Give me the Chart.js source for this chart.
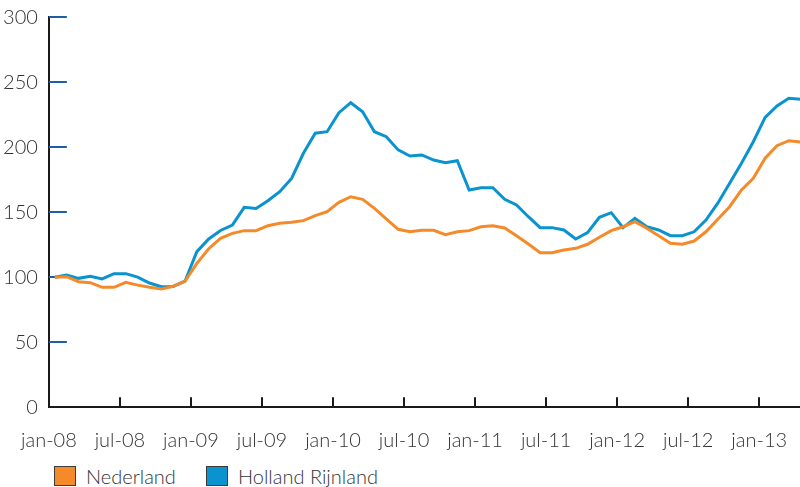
<!DOCTYPE html>
<html>
<head>
<meta charset="utf-8">
<script src="https://cdn.jsdelivr.net/npm/chart.js@4.4.1/dist/chart.umd.min.js"></script>
<style>
  html, body { margin: 0; padding: 0; background: #fff; overflow: hidden; }
  #wrap { position: absolute; left: 0; top: 0; width: 808px; height: 458px; }
  .legend-item { position: absolute; top: 466px; height: 20px; line-height: 20px; display: flex; align-items: center; font-family: Lato, 'Open Sans', sans-serif; font-weight: 300; font-size: 20px; color: #333; }
  .legend-box { width: 20px; height: 18px; border: 1px solid #3a3a3a; margin-right: 10px; }
</style>
</head>
<body>
<div id="wrap"><canvas id="chart"></canvas></div>
<div class="legend-item" style="left:54px"><span class="legend-box" style="background:#f58a2a"></span>Nederland</div>
<div class="legend-item" style="left:206px"><span class="legend-box" style="background:#0a93cf"></span>Holland Rijnland</div>
<script>
const months = [
  'jan-08', 'feb-08', 'mrt-08', 'apr-08', 'mei-08', 'jun-08', 'jul-08', 'aug-08', 'sep-08', 'okt-08', 'nov-08', 'dec-08',
  'jan-09', 'feb-09', 'mrt-09', 'apr-09', 'mei-09', 'jun-09', 'jul-09', 'aug-09', 'sep-09', 'okt-09', 'nov-09', 'dec-09',
  'jan-10', 'feb-10', 'mrt-10', 'apr-10', 'mei-10', 'jun-10', 'jul-10', 'aug-10', 'sep-10', 'okt-10', 'nov-10', 'dec-10',
  'jan-11', 'feb-11', 'mrt-11', 'apr-11', 'mei-11', 'jun-11', 'jul-11', 'aug-11', 'sep-11', 'okt-11', 'nov-11', 'dec-11',
  'jan-12', 'feb-12', 'mrt-12', 'apr-12', 'mei-12', 'jun-12', 'jul-12', 'aug-12', 'sep-12', 'okt-12', 'nov-12', 'dec-12',
  'jan-13', 'feb-13', 'mrt-13', 'apr-13'
];

const nederland = [
  100, 100.5, 96.6, 95.9, 92.3, 92.3, 96.1, 94, 92.3, 91, 93, 96.9,
  110.7, 122, 130, 133.8, 135.9, 135.9, 139.7, 141.5, 142.3, 143.6, 147.4, 150.5,
  157.7, 162, 160, 153, 145, 136.9, 135, 136.2, 136.2, 132.8, 135, 135.9,
  138.9, 139.7, 137.9, 132, 125.6, 118.9, 118.9, 121, 122.3, 125.4, 130.8, 135.9,
  138.9, 142.8, 137.7, 132, 126.1, 125.4, 127.9, 135, 144.6, 154.3, 167.2, 176.1,
  191.6, 201.2, 205.1, 204
];

const hollandRijnland = [
  100, 101.8, 99.2, 100.8, 98.7, 102.8, 102.8, 100.2, 95.6, 92.8, 93, 97,
  119.7, 129.5, 136, 140.2, 153.8, 153, 158.9, 165.9, 176, 195.4, 210.8, 212,
  226.6, 234.3, 227.4, 212, 208.2, 198, 193.3, 194.1, 190.2, 188.2, 189.7, 167.2,
  168.9, 168.9, 160, 155.6, 146.6, 138.2, 138.2, 136.4, 129.5, 134.4, 146.2, 149.7,
  138.2, 145.4, 138.9, 136.4, 132, 132, 135, 144, 157, 172.3, 187.7, 204.3,
  223, 231.8, 237.7, 237
];

// x ticks sit on the boundary before each labelled month
const tickMonths = ['jan-08', 'jul-08', 'jan-09', 'jul-09', 'jan-10', 'jul-10', 'jan-11', 'jul-11', 'jan-12', 'jul-12', 'jan-13'];
const yTicks = [0, 50, 100, 150, 200, 250, 300];

const fontFamily = "Lato, 'Open Sans', sans-serif";
const textColor = '#333';

const toPoints = (values) => values.map((v, i) => ({ x: i, y: v }));

const innerTicks = {
  id: 'innerTicks',
  beforeDatasetsDraw(chart) {
    const { ctx, scales: { x, y } } = chart;
    ctx.save();
    ctx.lineWidth = 2;
    ctx.strokeStyle = '#1d5ea8';
    y.ticks.forEach(t => {
      if (t.value === 0) return;
      const py = Math.round(y.getPixelForValue(t.value));
      ctx.beginPath();
      ctx.moveTo(x.left, py);
      ctx.lineTo(x.left + 18, py);
      ctx.stroke();
    });
    ctx.strokeStyle = '#1a1a1a';
    x.ticks.forEach(t => {
      const px = Math.round(x.getPixelForValue(t.value));
      ctx.beginPath();
      ctx.moveTo(px, y.bottom);
      ctx.lineTo(px, y.bottom - 10);
      ctx.stroke();
    });
    ctx.restore();
  }
};

new Chart(document.getElementById('chart'), {
  type: 'line',
  data: {
    datasets: [
      {
        label: 'Nederland',
        data: toPoints(nederland),
        borderColor: '#f58a2a',
        backgroundColor: '#f58a2a',
        borderWidth: 3,
        pointRadius: 0,
        tension: 0
      },
      {
        label: 'Holland Rijnland',
        data: toPoints(hollandRijnland),
        borderColor: '#0a93cf',
        backgroundColor: '#0a93cf',
        borderWidth: 3,
        pointRadius: 0,
        tension: 0
      }
    ]
  },
  options: {
    responsive: true,
    maintainAspectRatio: false,
    animation: false,
    layout: { padding: { top: 17.3, right: 0, bottom: 0, left: 0 } },
    plugins: {
      legend: { display: false },
      tooltip: { enabled: false }
    },
    scales: {
      x: {
        type: 'linear',
        min: -0.5,
        max: months.length - 0.5,
        afterBuildTicks(scale) {
          scale.ticks = tickMonths.map(m => ({ value: months.indexOf(m) - 0.5 }));
        },
        afterFit(scale) {
          scale.height = 50.7;
        },
        grid: { display: false, drawTicks: false },
        border: { display: true, color: '#1a1a1a', width: 2 },
        ticks: {
          autoSkip: false,
          maxRotation: 0,
          padding: 21,
          color: textColor,
          font: { family: fontFamily, size: 20, weight: '300' },
          callback: (value, index) => tickMonths[index]
        }
      },
      y: {
        min: 0,
        max: 300,
        afterBuildTicks(scale) {
          scale.ticks = yTicks.map(v => ({ value: v }));
        },
        afterFit(scale) {
          scale.width = 47.5;
          scale.paddingTop = 0;
          scale.paddingBottom = 0;
        },
        grid: { display: false, drawTicks: false },
        border: { display: true, color: '#1a1a1a', width: 2 },
        ticks: {
          padding: 11,
          color: textColor,
          font: { family: fontFamily, size: 20, weight: '300' }
        }
      }
    }
  },
  plugins: [innerTicks]
});
</script>
</body>
</html>
